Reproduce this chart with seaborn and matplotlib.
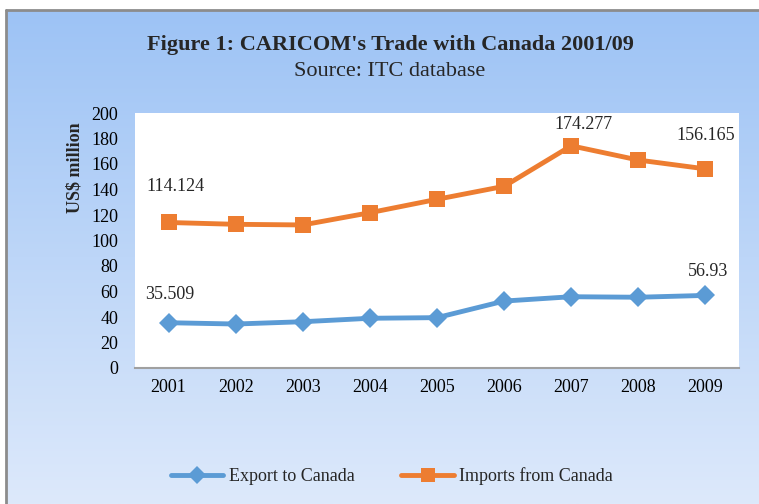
import numpy as np
import pandas as pd
import seaborn as sns
import matplotlib.pyplot as plt
from matplotlib.lines import Line2D

years = ["2001", "2002", "2003", "2004", "2005", "2006", "2007", "2008", "2009"]
exports = [35.509, 34.5, 36.3, 39.0, 39.5, 52.5, 55.9, 55.5, 56.93]
imports = [114.124, 112.7, 112.2, 121.8, 132.3, 142.5, 174.277, 163.1, 156.165]
series_names = ["Export to Canada", "Imports from Canada"]

sns.set_theme(style="white")
plt.rcParams["font.family"] = ["Liberation Serif", "DejaVu Serif"]

df = pd.DataFrame({
    "year": years * 2,
    "value": exports + imports,
    "series": [series_names[0]] * len(years) + [series_names[1]] * len(years),
})

W, H = 759, 504
fig = plt.figure(figsize=(W / 100, H / 100), dpi=100)
fig.patch.set_facecolor("white")

# gradient background panel with grey border on left/top
bg = fig.add_axes([0, 0, 1, 1], zorder=-10)
bg.set_xlim(0, W)
bg.set_ylim(H, 0)
bg.axis("off")
top_c = np.array([157, 195, 245]) / 255
bot_c = np.array([221, 233, 251]) / 255
t = np.linspace(0, 1, 256)[:, None]
grad = top_c * (1 - t[..., None]) + bot_c * t[..., None]
bg.imshow(grad, extent=[7, W, H, 10], aspect="auto", interpolation="bilinear")
bg.plot([6, 6], [10, H], color="#8c8c8c", lw=2)
bg.plot([6, W], [10, 10], color="#8c8c8c", lw=2)

ax = fig.add_axes([135 / W, 1 - 368 / H, (739 - 135) / W, (368 - 113) / H])
ax.set_facecolor("white")

palette = {series_names[0]: "#5B9BD5", series_names[1]: "#ED7D31"}
markers = {series_names[0]: "D", series_names[1]: "s"}
sns.lineplot(data=df, x="year", y="value", hue="series", style="series",
             palette=palette, markers=markers, dashes=False, linewidth=3.5,
             markersize=11.5, markeredgewidth=0, ax=ax, legend=False, sort=False)
for ln in ax.lines:
    if ln.get_marker() == "D":
        ln.set_markersize(10)

ax.set_xlim(-0.5, len(years) - 0.5)
ax.set_ylim(0, 200)
ax.set_yticks(range(0, 201, 20))
ax.tick_params(axis="both", labelsize=13, length=0, colors="black")
ax.tick_params(axis="x", pad=8)
ax.tick_params(axis="y", pad=12)
ax.set_xlabel("")
ax.set_ylabel("US$ million", fontsize=13, fontweight="bold")
ax.yaxis.set_label_coords(-0.086, 0.784)
for s in ["top", "right", "left"]:
    ax.spines[s].set_visible(False)
ax.spines["bottom"].set_color("#a0a0a0")
ax.spines["bottom"].set_linewidth(1.5)

# data labels (index, value, text, offset in points)
labels = [
    (0, imports[0], "114.124", (5, 26)),
    (0, exports[0], "35.509", (1, 20)),
    (6, imports[6], "174.277", (9, 15)),
    (8, imports[8], "156.165", (0, 24)),
    (8, exports[8], "56.93", (2, 17)),
]
for i, v, txt, off in labels:
    ax.annotate(txt, (i, v), xytext=off, textcoords="offset points",
                ha="center", va="center", fontsize=13, annotation_clip=False)

fig.text(390 / W, 1 - 45 / H, "Figure 1: CARICOM's Trade with Canada 2001/09",
         ha="center", va="center", fontsize=16, fontweight="bold")
fig.text(390 / W, 1 - 72 / H, "Source: ITC database",
         ha="center", va="center", fontsize=16)

handles = [Line2D([], [], color=palette[n], lw=3.5, marker=markers[n],
                  markersize=9 if markers[n] == "D" else 10.5, markeredgewidth=0)
           for n in series_names]
fig.legend(handles, series_names, loc="center", bbox_to_anchor=(392 / W, 1 - 476 / H),
           ncol=2, frameon=False, fontsize=13, handlelength=2.9, columnspacing=2.6,
           handletextpad=0.3)

fig.savefig("out.png", dpi=100)
